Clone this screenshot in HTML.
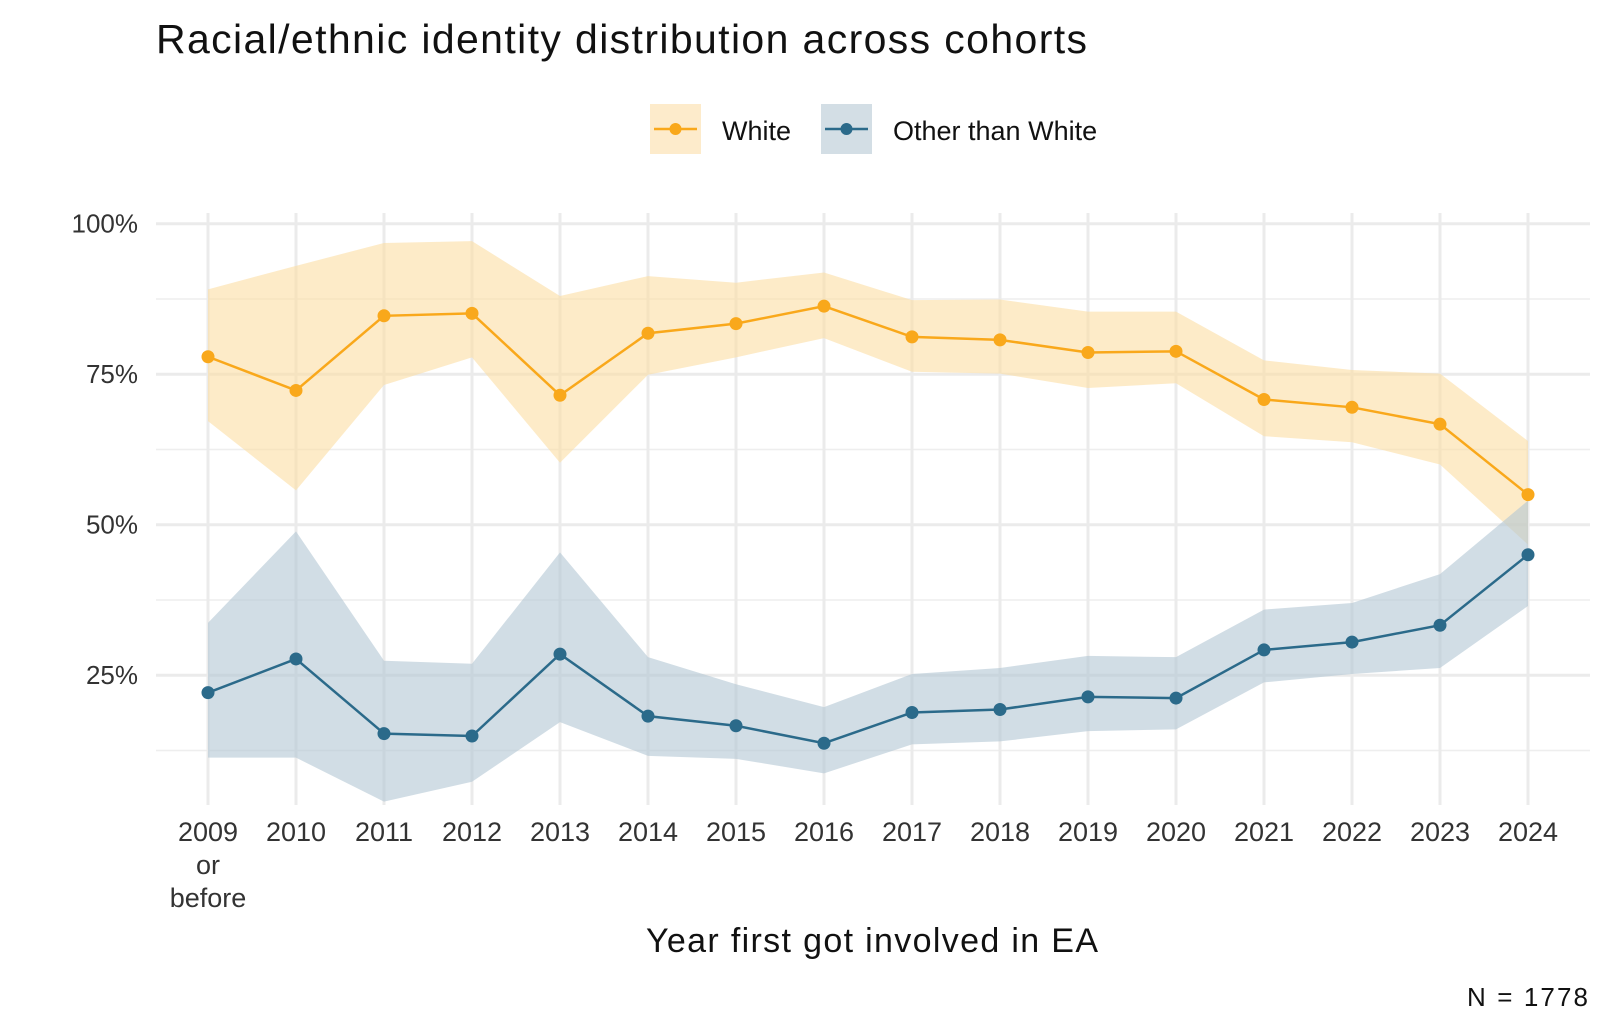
<!DOCTYPE html>
<html><head><meta charset="utf-8"><style>
html,body{margin:0;padding:0;background:#fff;}
svg{display:block;font-family:"Liberation Sans",sans-serif;}
</style></head><body>
<svg id="chart" width="1600" height="1029" viewBox="0 0 1600 1029">
<text x="156" y="53" font-size="41" textLength="931" lengthAdjust="spacing" fill="#111">Racial/ethnic identity distribution across cohorts</text>
<g>
 <g>
  <rect x="650" y="104" width="51" height="50" fill="#FDEBCB"/>
  <line x1="654" y1="129" x2="697" y2="129" stroke="#F9A81B" stroke-width="2.5"/>
  <circle cx="675.5" cy="129" r="6" fill="#F9A81B"/>
  <text x="722" y="140" font-size="27" fill="#111">White</text>
 </g>
 <g>
  <rect x="821" y="104" width="51" height="50" fill="#D3DEE5"/>
  <line x1="825" y1="129" x2="868" y2="129" stroke="#2B6A8A" stroke-width="2.5"/>
  <circle cx="846.5" cy="129" r="6" fill="#2B6A8A"/>
  <text x="893" y="140" font-size="27" fill="#111">Other than White</text>
 </g>
</g>
<g id="grid"></g>
<g id="bands"></g>
<g id="series"></g>
<g id="axes"></g>
<text x="646" y="952" font-size="34" textLength="452" lengthAdjust="spacing" fill="#111">Year first got involved in EA</text>
<text x="1467" y="1006" font-size="26" textLength="121" lengthAdjust="spacing" fill="#111">N = 1778</text>
</svg>
<script>
const categories = ["2009","2010","2011","2012","2013","2014","2015","2016","2017","2018","2019","2020","2021","2022","2023","2024"];
const whiteValues = [77.9,72.3,84.7,85.1,71.5,81.8,83.4,86.3,81.2,80.7,78.6,78.8,70.8,69.5,66.7,55.0];
const whiteUpper = [89.1,93.0,96.8,97.1,88.0,91.3,90.2,91.9,87.3,87.4,85.4,85.4,77.3,75.7,75.1,63.9];
const whiteLower = [67.2,55.7,73.2,77.8,60.3,74.9,77.8,81.0,75.4,75.1,72.7,73.5,64.7,63.7,60.0,46.7];
const otherValues = [22.1,27.7,15.3,14.9,28.5,18.2,16.6,13.7,18.8,19.3,21.4,21.2,29.2,30.5,33.3,45.0];
const otherUpper = [33.7,48.9,27.4,26.9,45.4,28.0,23.5,19.7,25.2,26.2,28.2,28.0,35.9,37.0,41.8,54.0];
const otherLower = [11.3,11.3,4.0,7.3,17.2,11.6,11.1,8.7,13.5,14.0,15.7,16.0,23.8,25.2,26.2,36.5];
const yTicks = [25,50,75,100];
const yTickLabels = ["25%","50%","75%","100%"];
const yMinor = [12.5,37.5,62.5,87.5];

const NS="http://www.w3.org/2000/svg";
function x(i){return 208+88*i;}
function y(v){return 825.7-6.02*v;}
function mk(tag,attrs,parent){const e=document.createElementNS(NS,tag);for(const k in attrs)e.setAttribute(k,attrs[k]);parent.appendChild(e);return e;}
const grid=document.getElementById('grid'),bands=document.getElementById('bands'),series=document.getElementById('series'),axes=document.getElementById('axes');
yMinor.forEach(v=>{const l=mk('line',{x1:156,x2:1590,y1:y(v),y2:y(v),stroke:'#EEEEEE','stroke-width':1.5},grid);

});
yTicks.forEach((v,k)=>{const l=mk('line',{x1:156,x2:1590,y1:y(v),y2:y(v),stroke:'#EBEBEB','stroke-width':3},grid);


const t=mk('text',{x:138,y:y(v)+9,'font-size':26,fill:'#333','text-anchor':'end'},axes);t.textContent=yTickLabels[k];

});
categories.forEach((c,i)=>{const l=mk('line',{x1:x(i),x2:x(i),y1:213,y2:805,stroke:'#EBEBEB','stroke-width':3},grid);


const t=mk('text',{x:x(i),y:841,'font-size':27,fill:'#333','text-anchor':'middle'},axes);t.textContent=c;


if(i===0){const t2=mk('text',{x:x(i),y:874,'font-size':27,fill:'#333','text-anchor':'middle'},axes);t2.textContent='or';


const t3=mk('text',{x:x(i),y:907,'font-size':27,fill:'#333','text-anchor':'middle'},axes);t3.textContent='before';

}});
function band(up,lo,fill,name){let pts=up.map((v,i)=>x(i)+','+y(v));for(let i=lo.length-1;i>=0;i--)pts.push(x(i)+','+y(lo[i]));
const p=mk('polygon',{points:pts.join(' '),fill:fill,'fill-opacity':0.6},bands);

}
band(whiteUpper,whiteLower,'#FCDDA3','white-confidence-band');
band(otherUpper,otherLower,'#B3C7D3','other-confidence-band');
function line(vals,col,name){const p=mk('polyline',{points:vals.map((v,i)=>x(i)+','+y(v)).join(' '),fill:'none',stroke:col,'stroke-width':2.5},series);


vals.forEach((v,i)=>{const c=mk('circle',{cx:x(i),cy:y(v),r:6.5,fill:col},series);

});}
line(whiteValues,'#F9A81B','white');
line(otherValues,'#2B6A8A','other');
</script>
</body></html>
